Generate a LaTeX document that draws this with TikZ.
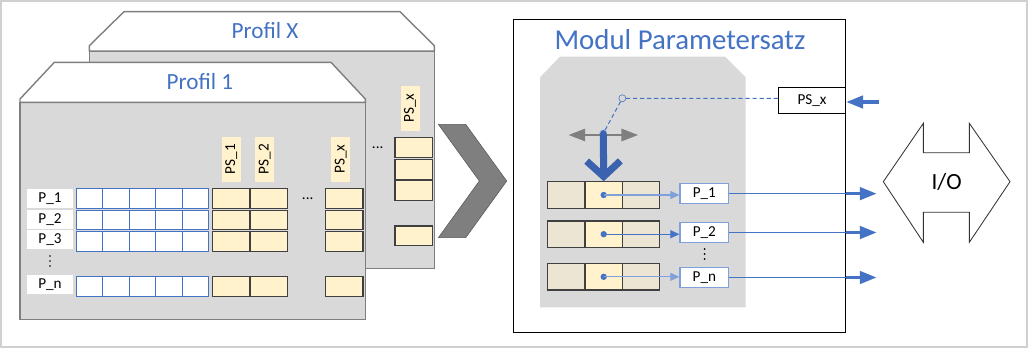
\documentclass[tikz,border=0pt]{standalone}
\usepackage{fontspec}
\setmainfont{Carlito}
\usepackage{xcolor}
\usepackage{tikz}
\usetikzlibrary{arrows.meta}
\definecolor{ParamBlue}{HTML}{4472C4}
\definecolor{ParamLight}{HTML}{7FA0DA}
\definecolor{ParamDeep}{HTML}{3A62AE}
\definecolor{ParamGrey}{HTML}{D9D9D9}
\definecolor{ParamLine}{HTML}{7F7F7F}
\definecolor{ParamYellow}{HTML}{FFF2CC}
\definecolor{ParamBeige}{HTML}{ECE5D3}
\definecolor{ParamFrame}{HTML}{D0D0D0}

\begin{document}
\begin{tikzpicture}[every node/.style={font=\fontsize{10.8}{13}\selectfont}]

    \tikzstyle{cell}=[
      draw=ParamBlue,
      fill=white,
      line width=0.7pt,
      inner sep=0pt,
      minimum width=0.662cm,
      minimum height=0.488cm
    ]
    \tikzstyle{ycell}=[
      draw=black!75,
      fill=ParamYellow,
      line width=0.8pt,
      inner sep=0pt,
      minimum width=0.942cm,
      minimum height=0.488cm
    ]
    \tikzstyle{plabel}=[fill=white, inner sep=0pt, minimum width=1.133cm, minimum height=0.48cm]
    \tikzstyle{pslabel}=[fill=ParamYellow, rotate=90, inner sep=0pt, minimum width=1.125cm, minimum height=0.475cm]
    \tikzstyle{reg}=[
      draw=black!75,
      fill=ParamBeige,
      line width=0.8pt,
      inner sep=0pt,
      minimum width=0.933cm,
      minimum height=0.66cm
    ]
    \tikzstyle{pbox}=[draw=ParamLight, fill=white, line width=0.8pt, inner sep=0pt, minimum width=1.218cm, minimum height=0.49cm]
    \tikzstyle{dot}=[circle, fill=ParamBlue, inner sep=0pt, minimum size=4.5pt]
    \tikzstyle{title}=[font=\fontsize{16.5}{19}\selectfont, text=ParamBlue]
    \tikzstyle{thinflow}=[-{Triangle[length=6.5pt,width=5.7pt]}, ParamLight, line width=0.8pt]
    \tikzstyle{thickflow}=[-{Triangle[length=12pt,width=8.8pt]}, ParamBlue, line width=2.4pt]

    \useasboundingbox (0,0) rectangle (25.7,-8.7);
    \draw[ParamFrame, line width=1pt] (0.025,-0.025) rectangle (25.675,-8.675);

    % --- Profil X (back) ---
    \draw[ParamLine, line width=1pt, fill=ParamGrey] (2.233,-1.275) rectangle (10.858,-6.708);
    \draw[ParamLine, line width=1pt, fill=white] (2.233,-1.275) -- (2.233,-1.142) -- (3.1,-0.292)
      -- (10.0,-0.292) -- (10.858,-1.142) -- (10.858,-1.275) -- cycle;
    \node[title] (titleX) at (6.625,-0.767) {Profil X};
    \node[pslabel] (xps) at (10.25,-2.705) {PS\_x};
    \node (xdots) at (9.442,-3.692) {...};
    \node[ycell] (xc1) at (10.346,-3.684) {};
    \node[ycell] (xc2) at (10.346,-4.234) {};
    \node[ycell] (xc3) at (10.346,-4.766) {};
    \node[ycell] (xc4) at (10.346,-5.893) {};

    % --- Profil 1 (front) ---
    \draw[ParamLine, line width=1pt, fill=ParamGrey] (0.5,-2.558) rectangle (9.133,-7.983);
    \draw[ParamLine, line width=1pt, fill=white] (0.5,-2.558) -- (0.5,-2.475) -- (1.358,-1.558)
      -- (8.275,-1.558) -- (9.133,-2.475) -- (9.133,-2.558) -- cycle;
    \node[title] (title1) at (5.0,-2.042) {Profil 1};

    \node[plabel] (p1) at (1.25,-4.958) {P\_1};
    \node[plabel] (p2) at (1.25,-5.483) {P\_2};
    \node[plabel] (p3) at (1.25,-5.995) {P\_3};
    \node[plabel] (pn) at (1.25,-7.117) {P\_n};
    \coordinate (pdots) at (1.25,-6.525);
    \fill (pdots) ++(0,0.125) circle (0.7pt) (pdots) circle (0.7pt) (pdots) ++(0,-0.125) circle (0.7pt);

    \node[cell] (c11) at (2.239,-4.966) {};
    \node[cell] (c12) at (2.901,-4.966) {};
    \node[cell] (c13) at (3.563,-4.966) {};
    \node[cell] (c14) at (4.225,-4.966) {};
    \node[cell] (c15) at (4.887,-4.966) {};
    \node[cell] (c21) at (2.239,-5.504) {};
    \node[cell] (c22) at (2.901,-5.504) {};
    \node[cell] (c23) at (3.563,-5.504) {};
    \node[cell] (c24) at (4.225,-5.504) {};
    \node[cell] (c25) at (4.887,-5.504) {};
    \node[cell] (c31) at (2.239,-6.041) {};
    \node[cell] (c32) at (2.901,-6.041) {};
    \node[cell] (c33) at (3.563,-6.041) {};
    \node[cell] (c34) at (4.225,-6.041) {};
    \node[cell] (c35) at (4.887,-6.041) {};
    \node[cell] (cn1) at (2.239,-7.159) {};
    \node[cell] (cn2) at (2.901,-7.159) {};
    \node[cell] (cn3) at (3.563,-7.159) {};
    \node[cell] (cn4) at (4.225,-7.159) {};
    \node[cell] (cn5) at (4.887,-7.159) {};

    \node[pslabel] (ps1) at (5.78,-3.98) {PS\_1};
    \node[pslabel] (ps2) at (6.617,-3.98) {PS\_2};
    \node[pslabel] (psx1) at (8.517,-3.98) {PS\_x};
    \node (ydots) at (7.692,-4.975) {...};

    \node[ycell] (y11) at (5.779,-4.966) {};
    \node[ycell] (y12) at (6.721,-4.966) {};
    \node[ycell] (y1x) at (8.604,-4.966) {};
    \node[ycell] (y21) at (5.779,-5.504) {};
    \node[ycell] (y22) at (6.721,-5.504) {};
    \node[ycell] (y2x) at (8.604,-5.504) {};
    \node[ycell] (y31) at (5.779,-6.041) {};
    \node[ycell] (y32) at (6.721,-6.041) {};
    \node[ycell] (y3x) at (8.604,-6.041) {};
    \node[ycell] (yn1) at (5.779,-7.159) {};
    \node[ycell] (yn2) at (6.721,-7.159) {};
    \node[ycell] (ynx) at (8.604,-7.159) {};

    % --- Chevron ---
    \draw[fill=ParamLine, draw=black!65] (10.958,-3.108) -- (11.643,-3.108) -- (12.668,-4.525)
      -- (11.643,-5.943) -- (10.958,-5.943) -- (11.983,-4.525) -- cycle;

    % --- Modul Parametersatz ---
    \node[draw=black, line width=0.9pt, fill=white, minimum width=8.31cm, minimum height=7.825cm,
      inner sep=0pt] (modbox) at (16.988,-4.396) {};
    \node[title, font=\fontsize{20.5}{24}\selectfont] (modtitle) at (17.0,-1.0) {Modul Parametersatz};
    \fill[ParamGrey] (13.5,-7.683) -- (13.5,-1.933) -- (14.0,-1.417) -- (18.125,-1.417)
      -- (18.643,-1.933) -- (18.643,-7.683) -- cycle;

    \node[reg] (r1a) at (14.158,-4.875) {};
    \node[reg, fill=ParamYellow] (r1b) at (15.092,-4.875) {};
    \node[reg] (r1c) at (16.025,-4.875) {};
    \node[reg] (r2a) at (14.158,-5.855) {};
    \node[reg, fill=ParamYellow] (r2b) at (15.092,-5.855) {};
    \node[reg] (r2c) at (16.025,-5.855) {};
    \node[reg] (r3a) at (14.158,-6.92) {};
    \node[reg, fill=ParamYellow] (r3b) at (15.092,-6.92) {};
    \node[reg] (r3c) at (16.025,-6.92) {};

    \node[dot] (d1) at (r1b) {};
    \node[dot] (d2) at (r2b) {};
    \node[dot] (d3) at (r3b) {};

    \node[pbox] (op1) at (17.609,-4.841) {P\_1};
    \node[pbox] (op2) at (17.609,-5.813) {P\_2};
    \node[pbox] (opn) at (17.609,-6.9375) {P\_n};
    \coordinate (odots) at (17.617,-6.35);
    \fill (odots) ++(0,0.125) circle (0.7pt) (odots) circle (0.7pt) (odots) ++(0,-0.125) circle (0.7pt);

    \node[draw=black, line width=0.7pt, fill=white, inner sep=0pt, minimum width=1.685cm,
      minimum height=0.65cm] (psx) at (20.3,-2.508) {PS\_x};

    % --- Selector ---
    \node[circle, draw=ParamBlue, fill=ParamGrey, inner sep=0pt, minimum size=5pt] (pivot) at (15.558,-2.458) {};
    \coordinate (sl) at (14.208,-3.375);
    \coordinate (sr) at (15.958,-3.375);
    \draw[{Triangle[length=12pt,width=8.5pt]}-{Triangle[length=12pt,width=8.5pt]}, ParamLine,
      line width=2.1pt] (sl) -- (sr);
    \node[circle, draw=ParamBlue!50, fill=ParamDeep, inner sep=0pt, minimum size=5pt] (knob) at (15.083,-3.333) {};
    \draw[-{Straight Barb[length=11pt,width=24pt]}, ParamDeep, line width=5pt] (knob.center) -- (r1b.north);
    \draw[ParamBlue, line width=0.7pt, dash pattern=on 3pt off 2pt] (pivot -| psx.west) -- (pivot) -- (knob);

    % --- Arrows ---
    \draw[thinflow] (d1.center) -- (d1 -| op1.west);
    \draw[thinflow, ParamBlue] (d2.center) -- (d2 -| op2.west);
    \draw[thinflow] (d3.center) -- (d3 -| opn.west);

    \coordinate (tipx) at (21.917,0);
    \draw[ParamBlue, line width=0.8pt] (op1.east) -- (op1.east -| modbox.east);
    \draw[ParamBlue, line width=0.8pt] (op2.east) -- (op2.east -| modbox.east);
    \draw[ParamBlue, line width=0.8pt] (opn.east) -- (opn.east -| modbox.east);
    \draw[thickflow] (op1.east -| modbox.east) -- (op1.east -| tipx);
    \draw[thickflow] (op2.east -| modbox.east) -- (op2.east -| tipx);
    \draw[thickflow] (opn.east -| modbox.east) -- (opn.east -| tipx);

    \coordinate (psin) at (21.975,-2.55);
    \draw[thickflow] (psin) -- (psin -| psx.east);

    % --- I/O ---
    \draw[black!80, fill=white, line width=0.6pt] (22.083,-4.542) -- (23.083,-3.083) -- (23.083,-3.817)
      -- (24.233,-3.817) -- (24.233,-3.083) -- (25.25,-4.542) -- (24.233,-6.058) -- (24.233,-5.308)
      -- (23.083,-5.308) -- (23.083,-6.058) -- cycle;
    \node[font=\fontsize{16.5}{19}\selectfont] (io) at (23.667,-4.55) {I/O};

  \end{tikzpicture}
\end{document}
